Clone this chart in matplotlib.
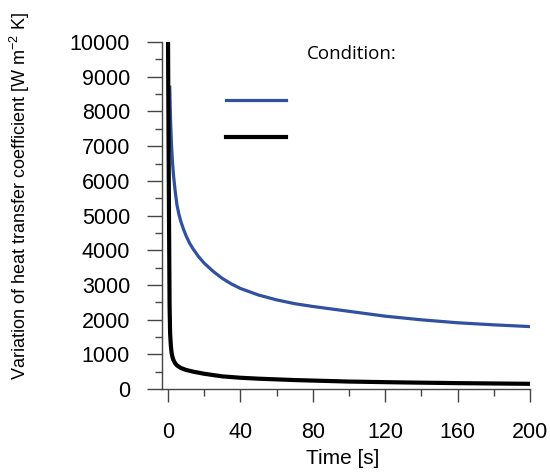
import numpy as np
import matplotlib.pyplot as plt
from matplotlib.ticker import MultipleLocator

plt.rcParams['font.family'] = ['Liberation Sans', 'DejaVu Sans']
plt.rcParams['mathtext.fontset'] = 'custom'
plt.rcParams['mathtext.rm'] = 'Liberation Sans'
plt.rcParams['mathtext.it'] = 'Liberation Sans:italic'

# Series values
time_blue = [1.0, 1.25, 1.5, 2, 2.5, 3, 4, 5, 6, 7, 8.5, 10, 12, 14, 17, 20,
             25, 30, 35, 40, 50, 60, 70, 80, 100, 120, 140, 160, 180, 200]
htc_blue = [8700, 8100, 7650, 7000, 6550, 6200, 5700, 5300, 5050, 4850, 4620,
            4420, 4200, 4030, 3810, 3630, 3390, 3190, 3030, 2900, 2710, 2570,
            2460, 2380, 2240, 2100, 1995, 1910, 1850, 1800]

time_black = [0.05, 0.3, 0.6, 0.9, 1.2, 1.6, 2, 2.5, 3, 4, 5, 7, 10, 14, 20,
              30, 40, 50, 70, 100, 130, 160, 200]
htc_black = [10000, 7500, 4800, 2400, 1600, 1250, 1050, 920, 840, 740, 680,
             610, 550, 500, 440, 365, 325, 298, 258, 215, 190, 170, 150]

x_ticks = [0, 40, 80, 120, 160, 200]
y_ticks = list(range(0, 10001, 1000))

blue = '#3050a0'
axis_col = '#444444'

fig = plt.figure(figsize=(5.5, 4.72), dpi=100)
ax = fig.add_axes([0.2945, 0.1758, 0.669, 0.735])

l1, = ax.plot(time_blue, htc_blue, color=blue, lw=2.3)
l2, = ax.plot(time_black, htc_black, color='black', lw=3.0)

ax.set_xlim(-3.3, 200)
ax.set_ylim(0, 10000)
ax.set_xticks(x_ticks)
ax.set_yticks(y_ticks)
ax.xaxis.set_minor_locator(MultipleLocator(20))
ax.yaxis.set_minor_locator(MultipleLocator(500))

for s in ['top', 'right']:
    ax.spines[s].set_visible(False)
for s in ['left', 'bottom']:
    ax.spines[s].set_color(axis_col)
    ax.spines[s].set_linewidth(1.0)

ax.tick_params(axis='y', which='major', length=11, width=1.0, color=axis_col,
               labelsize=15.5, pad=12)
ax.tick_params(axis='y', which='minor', length=5, width=1.0, color=axis_col)
ax.tick_params(axis='x', which='major', length=9.5, width=1.0, color=axis_col,
               labelsize=15.5, pad=14)
ax.tick_params(axis='x', which='minor', length=5, width=1.0, color=axis_col)

ax.set_xlabel('Time [s]', fontsize=15)
ax.xaxis.set_label_coords(0.49, -0.172)
ax.set_ylabel(r'Variation of heat transfer coefficient [W m$^{-2}$ K]', fontsize=13)
ax.yaxis.set_label_coords(-0.352, 0.556)

ax.text(0.395, 0.966, 'Condition:', transform=ax.transAxes, fontsize=13.5,
        family=['Open Sans', 'DejaVu Sans'], va='center')
ax.legend([l1, l2], ['', ''], loc='upper left', bbox_to_anchor=(0.14, 0.888),
          frameon=False, handlelength=4.3, labelspacing=1.7, handletextpad=0)

fig.savefig('out.png', dpi=100)
